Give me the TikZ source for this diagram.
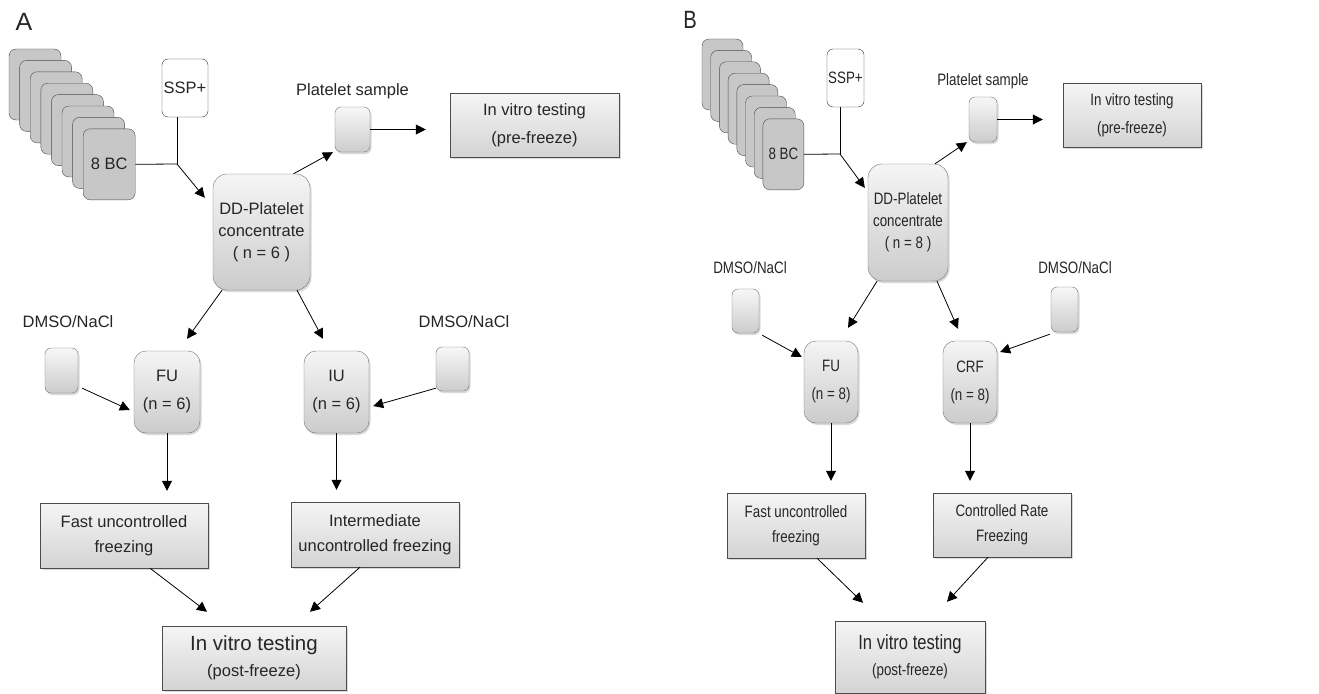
\documentclass[tikz,border=0pt]{standalone}
\usepackage{fontspec}
\setmainfont{Liberation Sans}
\newfontfamily\narrowsf[FakeStretch=0.81]{Liberation Sans}
\usepackage{tikz}
\usetikzlibrary{arrows.meta,positioning,calc,shadows}

\begin{document}
\begin{tikzpicture}[x=1pt,y=-1pt,
  font=\fontsize{16.5}{22}\selectfont,text=black!85,
  shade/.style={drop shadow={shadow xshift=1.5pt,shadow yshift=-2pt,opacity=0.3}},
  card/.style={draw=black!70,fill=black!22,rounded corners=7pt,minimum width=52pt,minimum height=71pt,inner sep=0pt},
  ssp/.style={draw=black!80,fill=white,rounded corners=6pt,minimum width=46pt,minimum height=58pt,inner sep=0pt},
  bag/.style={draw=black!55,rounded corners=6pt,top color=black!3,bottom color=black!20,shade,minimum width=33pt,minimum height=45pt,inner sep=0pt},
  proc/.style={draw=black!55,rounded corners=14pt,top color=black!4,bottom color=black!20,shade,align=center,inner sep=0pt},
  test/.style={draw=black!70,top color=black!4,bottom color=black!17,shade,align=center,inner sep=0pt},
  lbl/.style={inner sep=0pt},
  arr/.style={-{Triangle[length=10pt,width=10pt]},line width=0.8pt},
  link/.style={line width=0.8pt}]
\useasboundingbox (0,0) rectangle (1319,693);

% panel A
\node[lbl,font=\fontsize{25}{25}\selectfont] (labA) at (24,22) {A};
\foreach \i in {0,...,6}
  \node[card] at ({35+10.6*\i},{84.5+11.4*\i}) {};
\node[card] (bcA) at (109.2,164.3) {8 BC};
\node[ssp] (sspA) at (185,88) {SSP+};
\coordinate (jA) at (177,164);
\node[proc,minimum width=97pt,minimum height=116pt] (ddA) at (261.5,232) {DD-Platelet\\concentrate\\( n = 6 )};
\node[bag,minimum width=35pt] (sampA) at (352.5,129.5) {};
\node[lbl,above=8pt of sampA] (sampAlbl) {Platelet sample};
\node[test,minimum width=169pt,minimum height=64pt] (preA) at (534.5,125) {In vitro testing\\[6pt](pre-freeze)};
\draw[link] (bcA.east) -- (jA);
\draw[link] (sspA.south -| jA) -- (jA);
\draw[arr] (jA) -- ([xshift=-8pt,yshift=-24pt]ddA.north west);
\draw[arr] ([xshift=32pt]ddA.north) -- ([xshift=-2pt]sampA.south west);
\draw[arr,shorten >=24pt] (sampA.east) -- (sampA.east -| preA.west);

\node[lbl] (dmsoAlbl1) at (68,322) {DMSO/NaCl};
\node[bag] (dmsoA1) at (61.5,370.5) {};
\node[proc,rounded corners=12pt,minimum width=66pt,minimum height=82pt] (fuA) at (167,392) {FU\\[6pt](n = 6)};
\node[proc,rounded corners=12pt,minimum width=65pt,minimum height=82pt] (iuA) at (336.5,392) {IU\\[6pt](n = 6)};
\node[lbl] (dmsoAlbl2) at (464,322) {DMSO/NaCl};
\node[bag,minimum height=44pt] (dmsoA2) at (452.5,369) {};
\node[test,minimum width=168pt,minimum height=65pt] (fastA) at (124,535.5) {Fast uncontrolled\\[3pt]freezing};
\node[test,minimum width=168pt,minimum height=65pt] (interA) at (375,534.5) {Intermediate\\[3pt]uncontrolled freezing};
\node[test,minimum width=184pt,minimum height=64pt] (finA) at (254,658) {{\fontsize{20.5}{24}\selectfont In vitro testing}\\[4pt](post-freeze)};
\draw[arr] ([xshift=-39.5pt]ddA.south) -- ([xshift=20pt,yshift=12pt]fuA.north);
\draw[arr] ([xshift=35.5pt]ddA.south) -- ([xshift=-13.5pt,yshift=12pt]iuA.north);
\draw[arr] ([xshift=4pt,yshift=5pt]dmsoA1.south east) -- ([xshift=-4pt,yshift=-18pt]fuA.west);
\draw[arr] ([yshift=3pt]dmsoA2.south west) -- ([xshift=4pt,yshift=-14pt]iuA.east);
\draw[arr,shorten >=12pt] (fuA.south) -- (fuA.south |- fastA.north);
\draw[arr,shorten >=12pt] (iuA.south) -- (iuA.south |- interA.north);
\draw[arr] ([xshift=26pt]fastA.south) -- ([xshift=-47pt,yshift=14pt]finA.north);
\draw[arr] ([xshift=-15pt]interA.south) -- ([xshift=56pt,yshift=14pt]finA.north);

% panel B
\begin{scope}[font=\narrowsf\fontsize{16.5}{22}\selectfont]
\node[lbl,font=\narrowsf\fontsize{25}{25}\selectfont] (labB) at (690,20) {B};
\foreach \i in {0,...,6}
  \node[card,minimum width=41pt] at ({722.5+8.7*\i},{74.5+11.4*\i}) {};
\node[card,minimum width=41pt] (bcB) at (783.4,154.3) {8 BC};
\node[ssp,minimum width=37pt] (sspB) at (845.5,78) {SSP+};
\coordinate (jB) at (840,154);
\node[proc,minimum width=80pt,minimum height=117pt] (ddB) at (908,222.5) {DD-Platelet\\concentrate\\( n = 8 )};
\node[bag,minimum width=28pt] (sampB) at (983,119.5) {};
\node[lbl,above=8pt of sampB] (sampBlbl) {Platelet sample};
\node[test,minimum width=138pt,minimum height=64pt] (preB) at (1132,115) {In vitro testing\\[6pt](pre-freeze)};
\draw[link] (bcB.east) -- (jB);
\draw[link] (sspB.south -| jB) -- (jB);
\draw[arr] (jB) -- ([xshift=-3pt,yshift=-24pt]ddB.north west);
\draw[arr] ([xshift=27pt]ddB.north) -- ([xshift=-2pt]sampB.south west);
\draw[arr,shorten >=20pt] (sampB.east) -- (sampB.east -| preB.west);

\node[lbl] (dmsoBlbl1) at (750,268) {DMSO/NaCl};
\node[bag,minimum width=27pt,minimum height=44pt] (dmsoB1) at (745.5,311) {};
\node[lbl] (dmsoBlbl2) at (1075,268) {DMSO/NaCl};
\node[bag,minimum width=27pt] (dmsoB2) at (1064.5,309.5) {};
\node[proc,rounded corners=12pt,minimum width=54pt,minimum height=82pt] (fuB) at (831,382) {FU\\[6pt](n = 8)};
\node[proc,rounded corners=12pt,minimum width=54pt,minimum height=82pt] (crfB) at (970,382) {CRF\\[6pt](n = 8)};
\node[test,minimum width=138pt,minimum height=65pt] (fastB) at (796,525.5) {Fast uncontrolled\\[3pt]freezing};
\node[test,minimum width=138pt,minimum height=64pt] (ctrlB) at (1002,525) {Controlled Rate\\[3pt]Freezing};
\node[test,minimum width=150pt,minimum height=72pt] (finB) at (910,657) {{\narrowsf\fontsize{20.5}{24}\selectfont In vitro testing}\\[4pt](post-freeze)};
\draw[arr] ([xshift=-31pt]ddB.south) -- ([xshift=17pt,yshift=13pt]fuB.north);
\draw[arr] ([xshift=29pt]ddB.south) -- ([xshift=-12pt,yshift=12pt]crfB.north);
\draw[arr] ([xshift=3pt,yshift=-2pt]dmsoB1.south east) -- ([xshift=-2pt,yshift=25pt]fuB.west);
\draw[arr] ([xshift=-1pt,yshift=-2pt]dmsoB2.south west) -- ([xshift=3pt,yshift=30pt]crfB.east);
\draw[arr,shorten >=12pt] (fuB.south) -- (fuB.south |- fastB.north);
\draw[arr,shorten >=12pt] (crfB.south) -- (crfB.south |- ctrlB.north);
\draw[arr] ([xshift=21pt]fastB.south) -- ([xshift=-47pt,yshift=18pt]finB.north);
\draw[arr] ([xshift=-14pt]ctrlB.south) -- ([xshift=37pt,yshift=19pt]finB.north);
\end{scope}
\end{tikzpicture}
\end{document}
